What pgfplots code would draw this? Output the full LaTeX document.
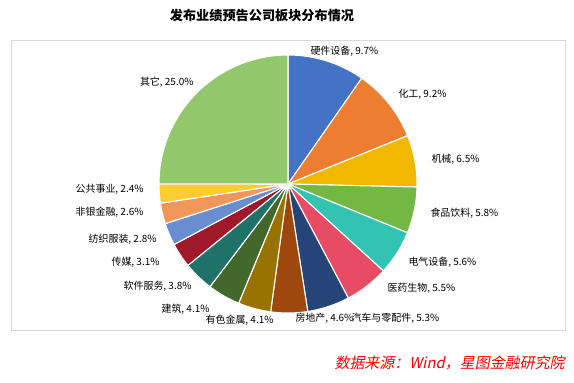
\documentclass[border=0pt]{standalone}
\usepackage{pgfplots}
\pgfplotsset{compat=1.18}
\usepackage{fontspec}
\setmainfont{Noto Sans CJK SC}
\newfontfamily\cjk{Noto Sans CJK SC}
\newfontfamily\cjkslant[FakeSlant=0.2]{Noto Sans CJK SC}
\definecolor{c1}{HTML}{4472C4}
\definecolor{c2}{HTML}{ED7D31}
\definecolor{c3}{HTML}{F2B800}
\definecolor{c4}{HTML}{72B843}
\definecolor{c5}{HTML}{33C3B3}
\definecolor{c6}{HTML}{E84C65}
\definecolor{c7}{HTML}{264478}
\definecolor{c8}{HTML}{9E480E}
\definecolor{c9}{HTML}{997300}
\definecolor{c10}{HTML}{43682B}
\definecolor{c11}{HTML}{1F7268}
\definecolor{c12}{HTML}{A0192B}
\definecolor{c13}{HTML}{698ED0}
\definecolor{c14}{HTML}{F1975A}
\definecolor{c15}{HTML}{FFCD33}
\definecolor{c16}{HTML}{92C86B}
\definecolor{lbl}{HTML}{4A4A4A}
\definecolor{frame}{HTML}{D9D9D9}
\pgfmathsetmacro\k{360/100.1}
\newcommand\slice[3]{%
  \addplot[fill=#3, draw=white, line width=1.1pt, line join=round,
    domain={90-\k*(#2)}:{90-\k*(#1)}, samples=60, variable=\t]
    ({129*cos(\t)},{129*sin(\t)}) -- (axis cs:0,0) -- cycle;}
\begin{document}
\begin{tikzpicture}
\begin{axis}[
  x=1bp, y=1bp, xmin=-288, xmax=286, ymin=-198, ymax=184,
  hide axis, clip=false, scale only axis,
  every node/.style={font=\cjk\fontsize{9.7}{11}\selectfont, text=lbl, inner sep=0pt},
]
\path (rel axis cs:0,0) rectangle (rel axis cs:1,1);
\draw[frame, line width=0.8pt] (axis cs:-277,-146) rectangle (axis cs:277,144);
% values: 9.7, 9.2, 6.5, 5.8, 5.6, 5.5, 5.3, 4.6, 4.1, 4.1, 3.8, 3.1, 2.8, 2.6, 2.4, 25.0
\slice{0}{9.7}{c1}
\slice{9.7}{9.7+9.2}{c2}
\slice{18.9}{18.9+6.5}{c3}
\slice{25.4}{25.4+5.8}{c4}
\slice{31.2}{31.2+5.6}{c5}
\slice{36.8}{36.8+5.5}{c6}
\slice{42.3}{42.3+5.3}{c7}
\slice{47.6}{47.6+4.6}{c8}
\slice{52.2}{52.2+4.1}{c9}
\slice{56.3}{56.3+4.1}{c10}
\slice{60.4}{60.4+3.8}{c11}
\slice{64.2}{64.2+3.1}{c12}
\slice{67.3}{67.3+2.8}{c13}
\slice{70.1}{70.1+2.6}{c14}
\slice{72.7}{72.7+2.4}{c15}
\slice{75.1}{75.1+25.0}{c16}
% title
\node[font=\cjk\bfseries\fontsize{13.2}{15}\selectfont, text=black] at (axis cs:-26,169) {发布业绩预告公司板块分布情况};
% labels right
\node[anchor=west] at (axis cs:19,133) {硬件设备, 9.7\%};
\node[anchor=west] at (axis cs:107,90) {化工, 9.2\%};
\node[anchor=west] at (axis cs:140,25) {机械, 6.5\%};
\node[anchor=west] at (axis cs:139,-29) {食品饮料, 5.8\%};
\node[anchor=west] at (axis cs:117,-78) {电气设备, 5.6\%};
\node[anchor=west] at (axis cs:96,-104) {医药生物, 5.5\%};
\node[anchor=west] at (axis cs:60,-134) {汽车与零配件, 5.3\%};
\node[anchor=west] at (axis cs:4,-134) {房地产, 4.6\%};
% labels left
\node[anchor=east] at (axis cs:-11,-136) {有色金属, 4.1\%};
\node[anchor=east] at (axis cs:-75,-125) {建筑, 4.1\%};
\node[anchor=east] at (axis cs:-93,-102) {软件服务, 3.8\%};
\node[anchor=east] at (axis cs:-125,-78) {传媒, 3.1\%};
\node[anchor=east] at (axis cs:-128,-55) {纺织服装, 2.8\%};
\node[anchor=east] at (axis cs:-141,-28) {非银金融, 2.6\%};
\node[anchor=east] at (axis cs:-141,-5) {公共事业, 2.4\%};
\node[anchor=east] at (axis cs:-91,102) {其它, 25.0\%};
% source
\node[anchor=east, font=\cjkslant\fontsize{15}{17}\selectfont, text=red] at (axis cs:280,-179) {数据来源：Wind，星图金融研究院};
\end{axis}
\end{tikzpicture}
\end{document}
